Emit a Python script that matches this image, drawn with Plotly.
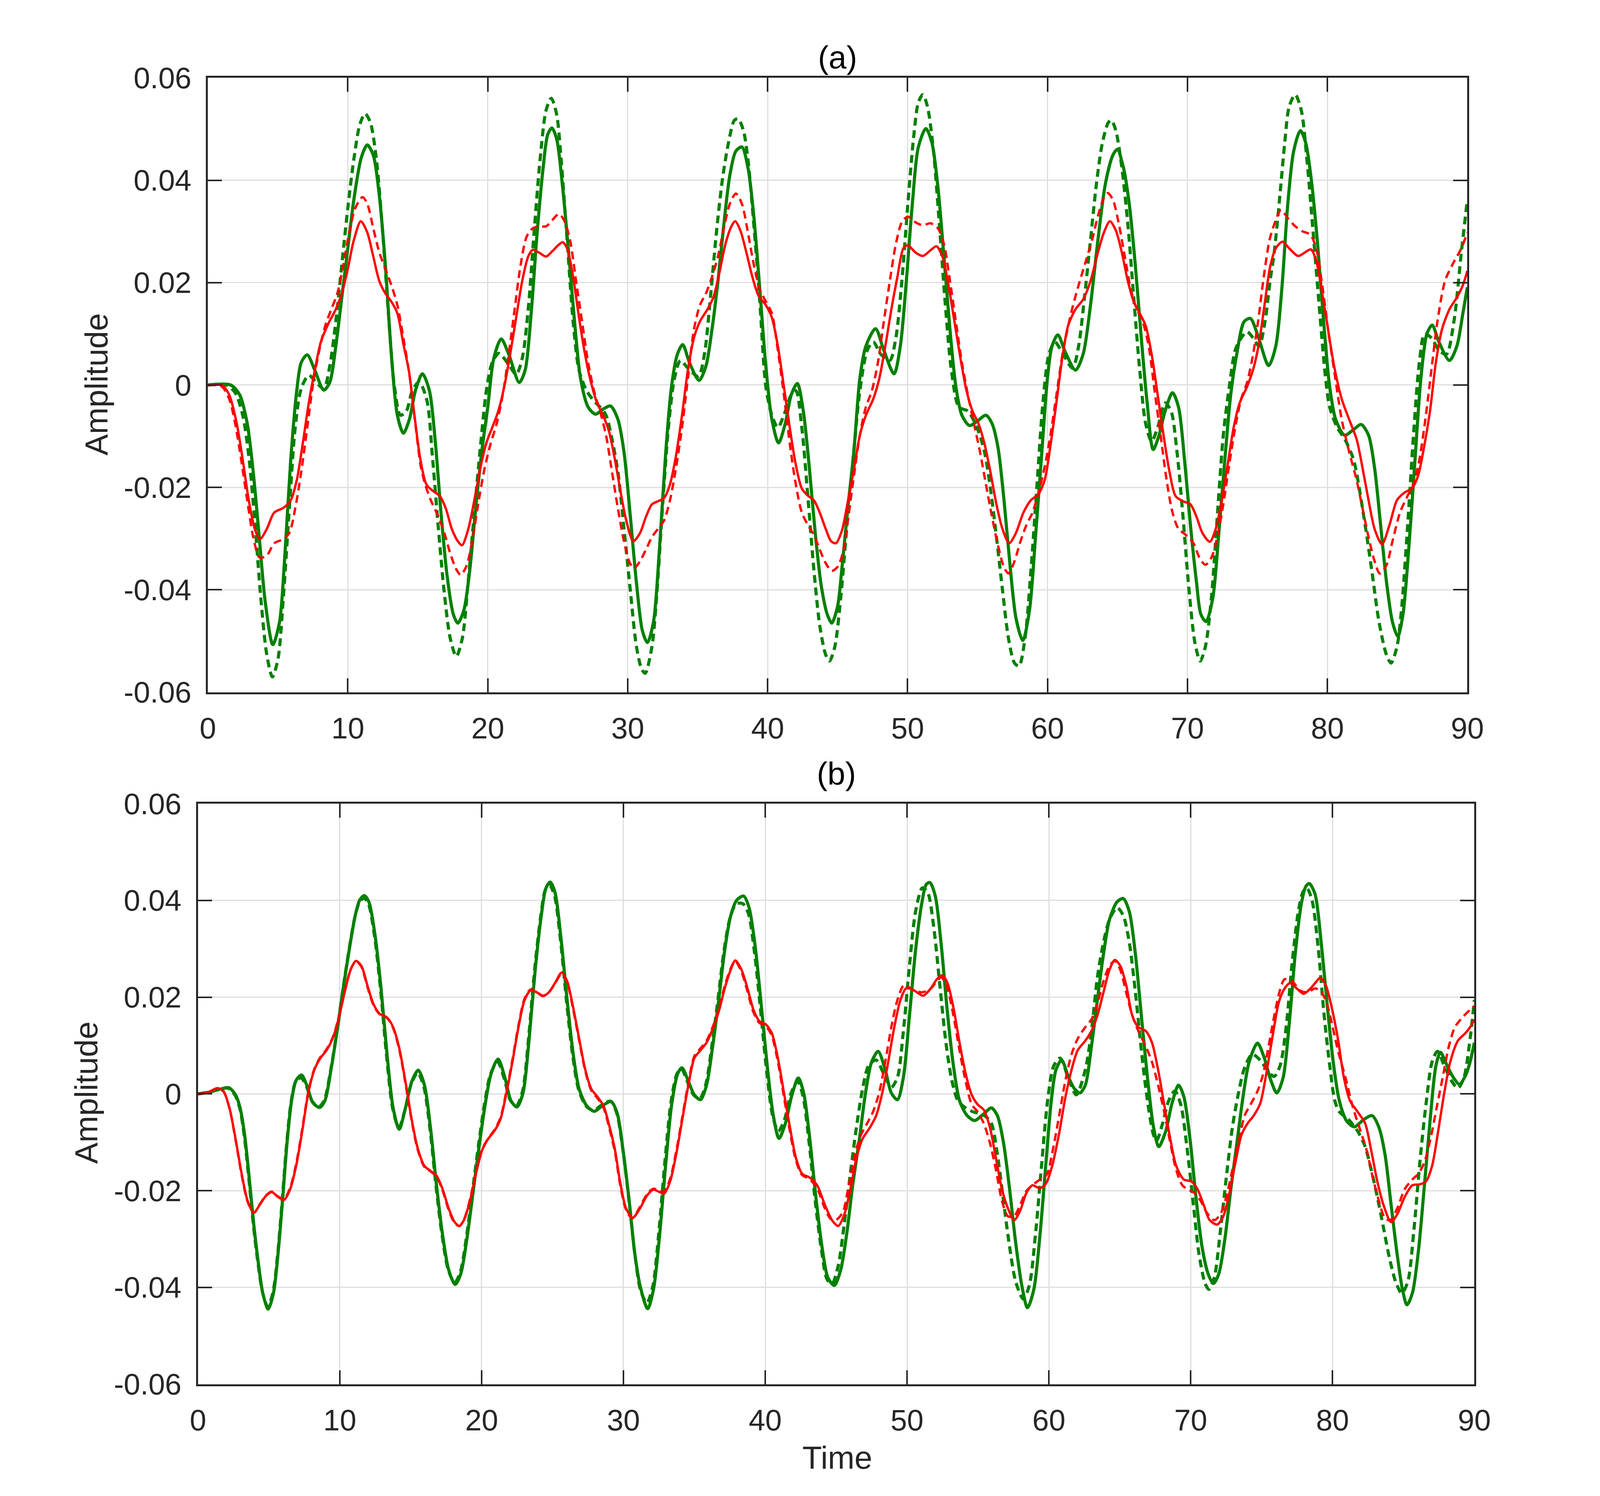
import numpy as np
import plotly.graph_objects as go

# ---------------- data (time, amplitude x 1e-3) ----------------
X_TICKS = [0, 10, 20, 30, 40, 50, 60, 70, 80, 90]
Y_TICKS = [-0.06, -0.04, -0.02, 0, 0.02, 0.04, 0.06]
Y_TICKTEXT = ["-0.06", "-0.04", "-0.02", "0", "0.02", "0.04", "0.06"]

# panel (a)
A_GREEN_SOLID = [[0,0],[1.63,0],[2.27,-1.9],[2.81,-7.5],[3.24,-17],[3.67,-29.7],[4.10,-42.4],[4.64,-50.7],[5.12,-46.3],[5.49,-33.7],[5.92,-14.6],[6.35,-1.1],[6.67,4.4],[7.10,5.9],[7.64,2.9],[8.28,-1.0],[8.71,0.5],[9.14,7.6],[9.57,17.1],[10.0,26.7],[10.43,36.2],[10.97,44.5],[11.39,46.9],[11.82,44.9],[12.25,37],[12.68,23.5],[13.11,6.0],[13.54,-5.9],[13.97,-9.4],[14.4,-6.7],[14.83,-1.1],[15.33,2.2],[15.83,-1.1],[16.26,-11.4],[16.68,-25.7],[17.11,-37.6],[17.54,-44.8],[17.86,-46.5],[18.29,-44],[18.72,-36],[19.14,-24],[19.57,-13],[20.0,-4.3],[20.43,5.2],[20.96,9.0],[21.5,6.0],[22.25,0.5],[22.67,2.9],[23.1,14],[23.53,29.8],[23.96,42.5],[24.28,48.9],[24.58,50.2],[24.92,48.1],[25.35,38.6],[25.78,25.9],[26.2,12.4],[26.63,1.3],[27.17,-4.3],[27.7,-5.7],[28.24,-4.7],[28.77,-4.1],[29.3,-6.7],[29.73,-13],[30.2,-26],[30.62,-38.5],[31.05,-48],[31.41,-50.3],[31.84,-46.3],[32.27,-32],[32.7,-13.8],[33.13,-0.3],[33.55,6.0],[33.93,7.9],[34.41,4.4],[35.1,0.9],[35.59,3.7],[36.02,10.8],[36.45,20.3],[36.87,31.4],[37.3,41],[37.73,45.7],[38.16,46.5],[38.59,42.5],[39.01,33],[39.44,18.7],[39.87,3.7],[40.3,-6.7],[40.78,-11.3],[41.26,-7.5],[41.69,-1.9],[42.12,0.3],[42.55,-5.1],[42.98,-16.2],[43.4,-28.9],[43.83,-39.2],[44.26,-44.8],[44.58,-46.5],[45.0,-43.2],[45.3,-36],[45.73,-24],[46.16,-13],[46.59,1.3],[47.02,7.6],[47.71,11],[48.3,6.8],[49.03,2.2],[49.48,7.6],[49.91,20.3],[50.34,35.4],[50.77,46.5],[51.31,50.1],[51.74,47.3],[52.17,38.6],[52.6,25],[53.03,10.8],[53.45,-0.3],[53.88,-5.9],[54.42,-7.9],[54.96,-7.1],[55.6,-5.9],[56.03,-7.5],[56.46,-12.2],[56.89,-22.5],[57.32,-35.2],[57.75,-45.6],[58.23,-49.9],[58.71,-44],[59.14,-29.7],[59.57,-14],[60.0,1.5],[60.32,7.6],[60.74,9.8],[61.26,6.5],[62.0,2.9],[62.54,6.0],[63.07,15.6],[63.6,28.3],[64.14,39.4],[64.67,44.9],[64.99,46],[65.42,42.5],[65.84,35.4],[66.27,23.5],[66.7,9.2],[67.12,-3.5],[67.55,-12.6],[67.97,-9.8],[68.4,-5.1],[68.93,-1.5],[69.36,-4.3],[69.79,-14.6],[70.21,-27.3],[70.64,-38.4],[70.96,-44.8],[71.33,-46.2],[71.81,-41.6],[72.24,-28.9],[72.67,-14.6],[73.09,-1.9],[73.52,6.0],[74.05,12.4],[74.5,13],[75.05,9.5],[75.8,3.8],[76.31,7.6],[76.74,18.7],[77.17,35.4],[77.59,45.7],[78.07,49.7],[78.45,47.3],[78.88,39.4],[79.3,27.5],[79.73,12.4],[80.16,-0.3],[80.59,-6.7],[81.23,-9.8],[81.87,-8.7],[82.41,-7.7],[82.94,-9.8],[83.37,-16.2],[83.8,-27.3],[84.22,-38.4],[84.65,-46.3],[85.03,-49.1],[85.4,-44.8],[85.83,-31.3],[86.26,-14.6],[86.68,1.3],[87.11,10],[87.49,11.7],[87.97,8.4],[88.72,4.8],[89.25,7.6],[89.68,14],[90.0,19.1]]

A_GREEN_DASH = [[0,0],[1.31,0],[1.95,-1.5],[2.49,-5.9],[2.92,-13.8],[3.35,-26.5],[3.78,-41.6],[4.21,-52.7],[4.61,-57],[5.01,-53.5],[5.39,-41.6],[5.82,-24.1],[6.24,-8.3],[6.67,-0.7],[7.21,1.9],[7.75,0.5],[8.28,-0.7],[8.71,3.7],[9.14,12.4],[9.57,23.5],[10.0,34.6],[10.43,44.1],[10.86,50.9],[11.23,53],[11.61,51.3],[12.04,44.1],[12.47,30.6],[12.9,14],[13.33,-0.3],[13.76,-5.9],[14.18,-5.1],[14.61,-1.1],[15.1,0.6],[15.65,-3],[16.04,-13.8],[16.47,-28],[16.9,-40.8],[17.32,-49.5],[17.75,-53],[18.18,-49.5],[18.6,-38.4],[19.04,-24.9],[19.47,-12.2],[19.9,-1.1],[20.32,4.4],[20.8,6.2],[21.39,4.4],[22.03,2.1],[22.46,5.2],[22.89,14.8],[23.31,29.8],[23.74,44.1],[24.17,53.7],[24.54,56],[24.92,52.9],[25.24,44.1],[25.67,28.3],[26.1,12.4],[26.52,2.9],[27.06,-1.1],[27.59,-3.1],[28.02,-4.3],[28.45,-5.9],[28.88,-10.6],[29.3,-17],[29.77,-29],[30.2,-40.5],[30.62,-51],[31.0,-55.5],[31.25,-56.3],[31.73,-51.1],[32.06,-41.6],[32.48,-24.1],[32.91,-8.3],[33.34,1.3],[33.77,4.8],[34.3,3.3],[35.05,1.7],[35.48,6.0],[35.91,17.1],[36.34,29.8],[36.77,40.2],[37.2,47.3],[37.62,51.7],[37.89,52],[38.27,49.7],[38.59,44.1],[39.01,31.4],[39.44,16.3],[39.87,-0.3],[40.3,-5.9],[40.73,-8.3],[41.16,-5.9],[41.69,-1.9],[42.02,-1.1],[42.44,-8.3],[42.87,-21.7],[43.3,-36],[43.73,-47.1],[44.15,-52.7],[44.42,-53.9],[44.8,-51.1],[45.22,-41.6],[45.65,-28],[46.12,-14],[46.59,-1.1],[47.12,6.8],[47.55,8.4],[48.09,6],[48.73,4.8],[49.16,9.2],[49.59,20.3],[50.02,35.4],[50.45,48.9],[50.77,55.2],[51.09,56.7],[51.42,54.4],[51.85,45.7],[52.27,31.4],[52.7,15.6],[53.13,2.9],[53.67,-4.3],[54.31,-5.1],[54.96,-8.3],[55.49,-13],[55.92,-20.2],[56.35,-29.7],[56.78,-40],[57.21,-49.5],[57.64,-54.3],[57.96,-54.9],[58.39,-49.5],[58.82,-36],[59.25,-19.4],[59.67,-3.5],[60.1,6],[60.53,8.4],[60.96,6.8],[61.79,3.3],[62.22,7.6],[62.64,17.1],[63.07,28.3],[63.5,39.4],[63.92,47.3],[64.35,51.3],[64.56,51.7],[64.88,49.7],[65.31,42.5],[65.74,31.4],[66.16,17.1],[66.59,2.9],[67.01,-7.5],[67.44,-11],[67.87,-8.3],[68.4,-3.5],[68.83,-5.1],[69.25,-13],[69.68,-25.7],[70.11,-40],[70.53,-50.3],[70.91,-53.9],[71.28,-51.1],[71.71,-41.6],[72.13,-25.7],[72.56,-9.8],[72.99,-0.3],[73.41,6.8],[73.84,9.2],[74.26,10.4],[74.69,9.2],[75.12,7.6],[75.54,12.4],[75.9,20.3],[76.2,25.9],[76.63,37.8],[76.95,47.3],[77.27,54.4],[77.7,56.7],[78.13,53.7],[78.56,43.3],[78.98,29.8],[79.41,15.6],[79.84,2.1],[80.16,-4.3],[80.7,-8.3],[81.23,-10.5],[81.87,-14.6],[82.51,-24.1],[83.16,-36],[83.69,-46.3],[84.22,-52.7],[84.55,-54.3],[84.97,-51.1],[85.29,-44],[85.72,-28],[86.15,-9.8],[86.57,4.4],[86.95,10],[87.43,9.2],[87.97,6.8],[88.5,6],[89.04,12.4],[89.57,25.9],[90.0,36.2]]

A_RED_SOLID = [[0,0],[0.99,0],[1.52,-1.9],[2.06,-7.5],[2.49,-14.6],[2.92,-22.5],[3.35,-28.1],[3.72,-30.1],[4.21,-28.1],[4.74,-24.9],[5.39,-24],[5.92,-22.5],[6.35,-18.6],[6.78,-11.4],[7.21,-3.5],[7.64,2.9],[8.07,8.4],[8.61,12],[9.14,14.8],[9.57,17.9],[10.0,22.7],[10.43,28.3],[10.93,32],[11.39,29.8],[11.82,25.1],[12.25,20.3],[12.68,17.9],[13.11,16.3],[13.54,14],[13.97,8],[14.38,2.5],[14.76,-5.9],[15.19,-14.6],[15.61,-19.4],[16.04,-20.6],[16.58,-21.7],[17.0,-24.1],[17.43,-28.1],[17.86,-30.5],[18.16,-31.3],[18.61,-28.1],[19.04,-22.5],[19.47,-16.2],[19.89,-11.4],[20.32,-8.3],[20.75,-5.1],[21.18,-0.3],[21.6,6],[22.03,13.2],[22.46,20.3],[22.89,25.1],[23.21,26.4],[23.64,25.9],[24.17,25.1],[24.6,26.1],[25.03,27.3],[25.35,27.9],[25.67,26.7],[26.1,21.1],[26.52,13.2],[26.95,6],[27.38,0.5],[27.81,-3.5],[28.24,-5.9],[28.66,-9],[29.09,-14.6],[29.5,-21],[29.9,-26.5],[30.4,-30.5],[30.88,-28.9],[31.31,-25.7],[31.73,-23.3],[32.16,-22.7],[32.59,-22.1],[33.02,-19.4],[33.45,-13.8],[33.88,-5.9],[34.3,2.9],[34.73,9.2],[35.16,12.4],[35.7,14.8],[36.12,17.1],[36.55,21.9],[36.98,27.5],[37.41,31],[37.68,32],[38.05,30.2],[38.48,25.9],[38.91,21.1],[39.34,17.5],[39.87,15.6],[40.3,13.2],[40.73,7.6],[41.16,-0.3],[41.58,-8.3],[42.0,-15.4],[42.44,-20.2],[42.87,-21.6],[43.3,-22.5],[43.72,-24.9],[44.15,-28.1],[44.53,-30.5],[44.88,-30.9],[45.3,-28.5],[45.73,-22.8],[46.16,-16.5],[46.59,-9.8],[47.02,-5.9],[47.55,-2.7],[47.98,1.3],[48.41,7.6],[48.84,14.8],[49.27,21.1],[49.7,26.7],[50.02,27.3],[50.56,25.9],[51.09,25.2],[51.63,26.3],[52.06,27.1],[52.49,25.1],[52.92,19.5],[53.35,12.4],[53.78,5.2],[54.21,-1.1],[54.64,-5.1],[55.06,-7.5],[55.49,-11.4],[55.92,-17],[56.35,-23.3],[56.78,-28.1],[57.26,-30.9],[57.74,-28.9],[58.28,-24.9],[58.81,-22.5],[59.35,-21.3],[59.8,-18.5],[60.2,-12],[60.63,-3.5],[61.05,5.2],[61.47,11.6],[62.0,14.8],[62.54,16.7],[63.07,20.3],[63.6,25.9],[64.03,29.8],[64.46,32],[64.88,30.2],[65.31,25.9],[65.74,20.3],[66.16,16.3],[66.59,14],[67.01,11.6],[67.44,6],[67.87,-1.9],[68.29,-9.8],[68.72,-17],[69.15,-21.7],[69.68,-22.7],[70.21,-23.3],[70.64,-25.7],[71.07,-28.9],[71.6,-30.6],[72.02,-28.1],[72.45,-22.5],[72.88,-15.4],[73.3,-8.3],[73.73,-3.5],[74.26,-0.3],[74.69,3],[75.1,8],[75.5,15.5],[75.9,23],[76.31,26.7],[76.79,28],[77.27,26.7],[77.91,25.2],[78.45,26],[78.82,26.5],[79.2,24.3],[79.63,17.9],[80.05,10.8],[80.48,3.7],[81.02,-2.7],[81.55,-6.7],[82.09,-10.6],[82.51,-16.2],[82.94,-22.5],[83.37,-28.1],[83.9,-31.1],[84.44,-27.3],[84.97,-22.5],[85.51,-21],[86.04,-20.2],[86.47,-17.8],[86.9,-12.2],[87.33,-5.1],[87.75,4.4],[88.18,10.8],[88.72,14.8],[89.25,17.1],[89.68,19.5],[90.0,22.3]]

A_RED_DASH = [[0,0],[0.99,-0.3],[1.52,-2.7],[1.95,-7.5],[2.38,-14.6],[2.81,-22.5],[3.24,-29.7],[3.7,-33.7],[4.21,-33.3],[4.74,-30.9],[5.39,-30.1],[5.82,-28.9],[6.24,-24.1],[6.67,-17],[7.1,-8.3],[7.53,0.5],[7.96,6.8],[8.39,11.6],[8.82,14.8],[9.25,17.9],[9.68,23.5],[10.1,29.8],[10.54,34.6],[11.05,36.7],[11.39,35.4],[11.82,30.6],[12.25,25.9],[12.68,22.7],[13.11,19.5],[13.54,15.6],[13.97,9.2],[14.4,2],[14.8,-7],[15.22,-16],[15.55,-19.6],[15.93,-22.5],[16.47,-25.7],[16.9,-28.9],[17.32,-32.9],[17.75,-36],[18.07,-37.1],[18.5,-35.2],[18.93,-29.7],[19.36,-22.5],[19.78,-16.2],[20.21,-11.4],[20.64,-7.5],[21.07,-1.9],[21.5,6],[21.92,14.8],[22.35,23.5],[22.78,29],[23.21,30.6],[23.64,31],[24.17,31],[24.6,32.2],[25.08,33.4],[25.45,32.2],[25.88,28.3],[26.31,20.3],[26.74,12.4],[27.17,4.4],[27.59,-1.1],[28.02,-5.1],[28.45,-9.8],[28.88,-17],[29.3,-24.1],[29.73,-30.5],[30.16,-34.8],[30.47,-35.8],[30.88,-34.4],[31.31,-32.1],[31.73,-29.7],[32.16,-28.1],[32.59,-26.5],[33.02,-22.5],[33.45,-16.2],[33.88,-8.3],[34.3,1.3],[34.73,10.8],[35.16,15.6],[35.59,17.9],[36.02,21.1],[36.45,25.1],[36.87,30.6],[37.3,35.4],[37.73,37.4],[38.16,35.4],[38.59,29.8],[39.01,23.5],[39.44,18.7],[39.87,16.3],[40.3,14],[40.73,6.8],[41.16,-1.9],[41.58,-11.4],[42.01,-19.4],[42.44,-24.9],[42.87,-27.3],[43.3,-29.3],[43.72,-32.1],[44.15,-34.8],[44.58,-36.3],[45.0,-35.5],[45.35,-33],[45.73,-26.5],[46.16,-17.8],[46.59,-9.8],[47.02,-4.3],[47.45,-1.1],[47.88,4.4],[48.3,12.4],[48.73,20.3],[49.16,27.5],[49.59,31.8],[50.02,32.9],[50.56,31.8],[51.09,31.2],[51.63,31.6],[52.17,30.6],[52.6,27.5],[53.03,20.3],[53.45,12.4],[53.88,4.4],[54.31,-1.9],[54.74,-7.5],[55.17,-13],[55.6,-19.4],[56.03,-25.7],[56.46,-31.3],[56.89,-35.6],[57.21,-36.8],[57.64,-34.4],[58.07,-30.5],[58.5,-27.3],[58.93,-24.9],[59.35,-21],[59.78,-16.2],[60.21,-9.8],[60.64,-1.9],[61.07,6],[61.68,14],[62.22,19.5],[62.75,24.3],[63.18,28.3],[63.6,33],[64.03,36.6],[64.3,37.5],[64.67,36.2],[65.1,31.4],[65.52,25.1],[65.95,18.7],[66.38,14.8],[66.8,12.4],[67.23,7.6],[67.65,-1.1],[68.08,-9.8],[68.51,-18.6],[68.93,-24.9],[69.36,-28.1],[69.89,-29.3],[70.43,-30.9],[70.85,-33.7],[71.28,-35.1],[71.71,-33.7],[72.13,-29.7],[72.56,-23.3],[72.99,-15.4],[73.41,-8.3],[73.84,-2.7],[74.26,0.5],[74.69,6],[75.05,12.5],[75.45,21.1],[75.88,28.5],[76.31,32.2],[76.68,34.2],[77.17,32.6],[77.7,31],[78.24,30],[78.77,29.4],[79.2,26.7],[79.63,19.5],[80.05,10.8],[80.48,2.9],[81.02,-6.7],[81.55,-13],[82.09,-18.6],[82.51,-24.1],[82.94,-29.7],[83.37,-34.4],[83.74,-36.8],[84.22,-35.2],[84.65,-30.5],[85.19,-24.9],[85.72,-21.7],[86.15,-19.4],[86.57,-14.6],[87.0,-6.7],[87.43,2.9],[87.86,12.4],[88.4,20.3],[88.93,23.5],[89.57,26.7],[90.0,29.8]]

# panel (b)
B_GREEN_SOLID = [[0,0],[0.83,0.4],[1.58,1.0],[2.17,1.3],[2.65,-0.2],[2.97,-2.9],[3.29,-8.5],[3.61,-17.3],[3.93,-26.9],[4.25,-34.8],[4.57,-41.2],[4.95,-44.5],[5.32,-41.2],[5.64,-33.2],[5.96,-22.1],[6.28,-10.1],[6.6,-1.4],[6.92,2.8],[7.3,3.9],[7.67,1.8],[8.1,-1.8],[8.58,-2.8],[8.95,-1.4],[9.38,5],[9.81,13],[10.24,21.8],[10.66,29.7],[11.09,36.9],[11.41,40.1],[11.73,41],[12.05,39.7],[12.48,32.9],[12.91,21.8],[13.33,8.2],[13.76,-2.9],[14.19,-7.3],[14.62,-3.0],[15.08,2.6],[15.53,4.9],[15.97,1.8],[16.39,-6.9],[16.82,-18.9],[17.25,-29.2],[17.68,-36.4],[18.13,-39.4],[18.53,-37.2],[18.96,-30],[19.39,-20.5],[19.82,-10.9],[20.25,-2.2],[20.67,4.2],[21.16,7.2],[21.64,3.4],[22.07,-1.4],[22.49,-2.7],[22.92,0.2],[23.35,11.4],[23.78,25.7],[24.21,36.9],[24.53,42.5],[24.83,43.8],[25.17,41.7],[25.6,32.1],[26.03,19.4],[26.46,8.2],[26.88,1],[27.42,-2.5],[27.95,-3.6],[28.49,-2.5],[29.13,-1.6],[29.56,-4],[29.99,-12],[30.42,-22.5],[30.8,-33],[31.2,-40],[31.71,-44.4],[32.12,-40.4],[32.55,-29.2],[32.97,-14.9],[33.4,-2.2],[33.83,4.2],[34.13,5.4],[34.58,2.6],[35.0,-0.2],[35.43,-1.2],[35.86,1.8],[36.29,9.8],[36.72,19.4],[37.14,29.7],[37.57,36.9],[38.0,40.1],[38.48,40.9],[38.86,38.5],[39.29,30.5],[39.71,18.6],[40.14,5.8],[40.57,-4.5],[40.97,-9.2],[41.42,-6.1],[41.85,-0.6],[42.33,3.3],[42.71,0.2],[43.14,-9.3],[43.57,-21.3],[44.0,-31.6],[44.42,-38],[44.87,-39.6],[45.32,-36.4],[45.75,-28.8],[46.16,-19],[46.64,-9.3],[47.07,0.2],[47.5,6.6],[47.96,8.8],[48.46,5],[48.89,0.2],[49.32,-1.2],[49.74,3.4],[50.17,16.2],[50.6,29.7],[51.03,39.3],[51.35,43.3],[51.61,43.7],[51.99,40.9],[52.42,30.5],[52.84,17],[53.27,5.8],[53.7,-1.4],[54.24,-4.5],[54.77,-5.5],[55.41,-4.1],[55.95,-2.9],[56.37,-4.5],[56.8,-10.1],[57.23,-19.7],[57.66,-30.8],[58.09,-39.6],[58.49,-44.2],[58.94,-40.4],[59.37,-29.2],[59.8,-14],[60.15,-2],[60.5,5],[60.9,7],[61.39,3.4],[61.82,1],[62.19,0.2],[62.57,1.8],[63.0,9.8],[63.42,19.4],[63.85,28.9],[64.28,36.1],[64.81,39.7],[65.24,40.4],[65.67,37.7],[66.1,28.9],[66.52,16.2],[66.95,3.4],[67.38,-6.9],[67.75,-10.9],[68.24,-7.7],[68.66,-2.2],[69.14,1.8],[69.52,-0.6],[69.95,-9.3],[70.37,-21.3],[70.8,-31.6],[71.23,-37.2],[71.6,-39.2],[71.98,-37.2],[72.41,-30],[72.83,-19.7],[73.26,-10.1],[73.69,-0.6],[74.12,6.6],[74.71,10.5],[75.15,7.8],[75.63,3],[76.07,0.2],[76.52,3.4],[76.95,14.6],[77.37,28.9],[77.8,39.3],[78.12,42.9],[78.36,43.5],[78.77,41.3],[79.2,31.3],[79.62,18.6],[80.05,6.6],[80.48,-1.4],[81.02,-5.7],[81.55,-6.8],[82.2,-5.3],[82.79,-4.5],[83.27,-6.9],[83.7,-12.5],[84.13,-22.9],[84.56,-33.2],[84.93,-40.4],[85.25,-43.6],[85.63,-41.2],[86.06,-32.4],[86.48,-18.9],[86.91,-4.5],[87.29,5.8],[87.61,8.6],[88.09,5.8],[88.52,3.4],[88.95,2],[89.38,3.8],[89.7,6.6],[90.0,10.6]]

B_GREEN_DASH = [[0,0],[0.83,0.4],[1.58,1.0],[2.1,1.2],[2.6,-0.2],[2.95,-3],[3.27,-8.8],[3.59,-17.6],[3.91,-27.2],[4.23,-35],[4.55,-41],[4.92,-44],[5.29,-41],[5.61,-33.4],[5.93,-22.4],[6.25,-10.4],[6.57,-1.6],[6.9,2.6],[7.27,3.3],[7.64,1.6],[8.07,-1.6],[8.55,-2.6],[8.92,-1.2],[9.35,4.8],[9.78,12.6],[10.21,21.4],[10.63,29.4],[11.06,36.5],[11.38,39.6],[11.7,40.5],[12.02,39.3],[12.45,32.6],[12.88,21.4],[13.3,7.8],[13.73,-3],[14.16,-7],[14.59,-3.4],[15.01,1.8],[15.49,4.4],[15.93,1.4],[16.36,-7.2],[16.79,-19.2],[17.22,-29.4],[17.65,-36.4],[18.1,-39],[18.5,-36.8],[18.93,-29.6],[19.36,-20],[19.79,-10.4],[20.22,-1.8],[20.64,4.2],[21.13,6.6],[21.61,3],[22.04,-1.4],[22.46,-2.4],[22.89,0.6],[23.32,11.8],[23.75,26],[24.18,37],[24.5,42.2],[24.8,43.1],[25.14,41],[25.57,31.6],[26.0,18.8],[26.43,7.8],[26.85,0.8],[27.39,-2.6],[27.92,-3.4],[28.46,-2.3],[29.1,-1.5],[29.53,-4],[29.96,-11.5],[30.39,-22],[30.8,-33],[31.2,-40.5],[31.65,-43.2],[32.07,-39.8],[32.5,-28.5],[32.92,-14.2],[33.35,-1.8],[33.78,4.2],[34.08,5.2],[34.53,2.4],[34.95,-0.2],[35.38,-1],[35.81,2],[36.24,10],[36.67,19.6],[37.09,29.6],[37.52,36.4],[37.95,39.3],[38.43,39.3],[38.81,37.3],[39.24,29.3],[39.66,17.6],[40.09,5],[40.52,-4.5],[40.92,-7.7],[41.37,-5.2],[41.8,0],[42.28,2.6],[42.66,-0.4],[43.09,-10],[43.52,-22],[43.95,-32],[44.37,-38.4],[44.72,-39.2],[45.14,-35.6],[45.57,-26.9],[46.0,-16.5],[46.43,-6.9],[46.86,1],[47.28,5.8],[47.82,7],[48.35,4.2],[48.89,1.4],[49.32,3.4],[49.74,13],[50.17,26.5],[50.6,37.7],[51.08,42.6],[51.45,41.7],[51.88,34.5],[52.31,22.5],[52.74,10.6],[53.17,2.6],[53.59,-1.4],[54.13,-2.9],[54.66,-3.7],[55.2,-4.1],[55.6,-4.8],[55.95,-6.1],[56.37,-12.5],[56.8,-22.1],[57.23,-31.6],[57.66,-38.8],[58.19,-42.4],[58.62,-39.6],[59.05,-29.2],[59.48,-14.9],[59.91,-1.4],[60.34,5.8],[60.8,7.4],[61.4,3],[61.93,-0.2],[62.57,5],[63.0,13],[63.42,24.1],[63.85,31.3],[64.28,36.1],[64.81,38.5],[65.24,36.9],[65.67,31.3],[66.1,21],[66.52,9],[66.95,-1.4],[67.38,-8.5],[67.59,-9.7],[68.02,-6.1],[68.45,-1.4],[68.88,0.6],[69.3,-2.2],[69.73,-10.9],[70.16,-22.1],[70.59,-33.2],[71.02,-39.2],[71.28,-40.4],[71.66,-38],[72.09,-28.4],[72.51,-17.3],[72.94,-6.9],[73.37,0.2],[73.8,5.4],[74.33,8.2],[74.76,7.4],[75.3,5.4],[75.87,3.6],[76.3,5.8],[76.73,13.8],[77.16,27.3],[77.59,37.7],[77.91,41.7],[78.18,42.6],[78.55,40.1],[78.98,30.5],[79.41,16.2],[79.84,5],[80.16,-1.4],[80.48,-3.7],[81.13,-5.3],[81.77,-7.7],[82.3,-10.9],[82.73,-15.7],[83.16,-21.3],[83.59,-27.6],[84.02,-34],[84.45,-38.8],[84.88,-41.2],[85.31,-38.8],[85.73,-28.4],[86.16,-14.1],[86.59,-2.2],[87.02,6.6],[87.4,8.8],[87.88,5.8],[88.41,2.6],[88.84,1.2],[89.27,3.4],[89.7,11.4],[90.0,19.4]]

B_RED_SOLID = [[0,0],[0.62,0.2],[1.37,1.2],[1.79,0.6],[2.22,-2.9],[2.65,-9.3],[3.08,-16.5],[3.5,-22.1],[3.93,-24.6],[4.36,-22.9],[4.79,-21.1],[5.21,-20.3],[5.64,-21.3],[6.07,-21.9],[6.5,-19.7],[6.92,-14.9],[7.35,-7.7],[7.78,0.2],[8.21,5],[8.63,7.4],[9.06,9],[9.49,11.4],[9.91,15.4],[10.34,21],[10.77,25.7],[11.14,27.5],[11.52,26.5],[11.94,22.5],[12.37,18.6],[12.8,16.6],[13.33,15.8],[13.76,13.8],[14.19,9.5],[14.65,2.2],[15.07,-5.3],[15.5,-11.3],[15.97,-14.9],[16.39,-15.9],[16.82,-16.9],[17.25,-19.7],[17.68,-23.7],[18.1,-26.5],[18.43,-27.3],[18.75,-26.1],[19.18,-22.1],[19.6,-16.5],[20.03,-11.7],[20.46,-9.3],[20.89,-7.7],[21.32,-5.3],[21.75,0.2],[22.17,6.6],[22.6,13.8],[23.03,19.4],[23.46,21.4],[23.89,21],[24.31,20.2],[24.74,21],[25.17,22.9],[25.65,25.1],[26.03,23.3],[26.46,17.8],[26.88,11.4],[27.31,5],[27.74,1],[28.17,-0.6],[28.6,-2.5],[29.03,-6.9],[29.4,-11.5],[29.76,-18.1],[30.19,-23.7],[30.65,-25.6],[31.16,-23.7],[31.69,-20.9],[32.12,-19.8],[32.55,-20.3],[32.87,-20.6],[33.29,-18.1],[33.72,-12.5],[34.15,-5.3],[34.58,1.8],[35.0,7.4],[35.43,9],[35.86,10.6],[36.29,13.4],[36.72,17],[37.14,21.8],[37.57,25.7],[37.89,27.6],[38.32,25.7],[38.75,21.8],[39.17,17.4],[39.6,15],[40.03,14.4],[40.46,12.6],[40.89,7.4],[41.32,0.2],[41.74,-6.9],[42.17,-13.3],[42.6,-16.5],[43.13,-17.3],[43.66,-18.9],[44.2,-22.9],[44.73,-26.2],[45.14,-27.3],[45.57,-25],[46.0,-19.7],[46.43,-13.3],[46.86,-9.3],[47.39,-6.9],[47.82,-4.5],[48.25,0.2],[48.67,6.6],[49.1,13.8],[49.53,19.4],[49.96,21.9],[50.49,21.4],[51.13,20.3],[51.67,21.8],[52.1,23.7],[52.47,24.5],[52.84,23],[53.27,17.8],[53.7,10.6],[54.13,4.2],[54.56,-0.2],[54.98,-2.2],[55.41,-3.3],[55.84,-6.9],[56.27,-13.3],[56.69,-19.7],[57.12,-23.7],[57.55,-26.1],[57.98,-24.1],[58.41,-20.5],[58.83,-18.9],[59.37,-19.5],[59.8,-18.5],[60.22,-15],[60.7,-8.5],[61.17,-0.6],[61.6,5],[62.03,9],[62.57,11],[63.0,13],[63.42,16.2],[63.85,21],[64.28,25.7],[64.65,27.7],[65.03,26.5],[65.45,22.5],[65.88,16.2],[66.31,13.8],[66.84,13],[67.27,10.6],[67.7,5],[68.13,-2.2],[68.56,-9.3],[68.98,-14.9],[69.52,-17.7],[70.05,-18.1],[70.48,-19.7],[70.91,-22.9],[71.34,-26.1],[71.87,-27],[72.3,-25.3],[72.73,-20.5],[73.16,-14.1],[73.58,-8.5],[74.01,-6.1],[74.44,-4.5],[74.9,-2],[75.32,4],[75.75,11.5],[76.22,19],[76.62,21.8],[77.0,22.9],[77.48,21.8],[77.96,20.7],[78.45,21.8],[78.77,22.9],[79.14,24],[79.52,22.5],[79.95,17.8],[80.38,11.4],[80.8,3.4],[81.23,-1.4],[81.77,-3.7],[82.3,-6.1],[82.73,-11.7],[83.16,-18.1],[83.59,-22.9],[84.13,-26.5],[84.56,-24.9],[85.09,-21.3],[85.63,-18.9],[86.16,-18.7],[86.59,-18.1],[87.02,-14.9],[87.45,-7.7],[87.88,0.2],[88.3,6.6],[88.84,11],[89.38,12.6],[89.7,13.8],[90.0,15.4]]

B_RED_DASH = [[0,0],[0.62,0.2],[1.37,1.1],[1.79,0.5],[2.22,-3],[2.65,-9.5],[3.08,-16.8],[3.5,-22.3],[3.93,-24.6],[4.36,-22.8],[4.79,-21],[5.21,-20.2],[5.64,-21.2],[6.07,-21.7],[6.5,-19.4],[6.92,-14.5],[7.35,-7.3],[7.78,0.5],[8.21,5.2],[8.63,7.6],[9.06,9.2],[9.49,11.6],[9.91,15.6],[10.34,21.2],[10.77,25.8],[11.14,27.4],[11.52,26.3],[11.94,22.2],[12.37,18.4],[12.8,16.5],[13.33,15.7],[13.76,13.6],[14.19,9.2],[14.65,1.8],[15.07,-5.6],[15.5,-11.6],[15.97,-15.1],[16.39,-16],[16.82,-17.1],[17.25,-20],[17.68,-24],[18.1,-26.7],[18.43,-27.3],[18.75,-26],[19.18,-21.8],[19.6,-16.2],[20.03,-11.5],[20.46,-9.2],[20.89,-7.5],[21.32,-5],[21.75,0.6],[22.17,7],[22.6,14.2],[23.03,19.7],[23.46,21.6],[23.89,21.1],[24.31,20.3],[24.74,21],[25.17,22.8],[25.65,24.9],[26.03,23],[26.46,17.4],[26.88,11],[27.31,4.7],[27.74,0.7],[28.17,-0.9],[28.6,-2.9],[29.03,-7.4],[29.4,-12],[29.76,-18.6],[30.19,-24],[30.62,-25.7],[31.16,-23.4],[31.69,-20.6],[32.12,-19.6],[32.55,-20],[32.87,-20.2],[33.29,-17.6],[33.72,-11.9],[34.15,-4.8],[34.58,2.3],[35.0,7.8],[35.43,9.4],[35.86,11],[36.29,13.8],[36.72,17.5],[37.14,22.3],[37.57,26],[37.87,27.5],[38.3,25.4],[38.73,21.4],[39.15,17],[39.58,14.7],[40.01,14.1],[40.44,12.2],[40.87,7],[41.3,-0.3],[41.72,-7.4],[42.15,-13.6],[42.58,-16.7],[43.11,-17.6],[43.64,-19.4],[44.18,-23.5],[44.6,-25.8],[44.96,-26.1],[45.46,-24.5],[45.89,-18.9],[46.32,-12.5],[46.75,-8.5],[47.18,-6.1],[47.6,-3.7],[48.03,0.2],[48.46,6.6],[48.89,13.8],[49.32,19.4],[49.79,22.5],[50.39,21.6],[51.03,21],[51.67,21.8],[52.1,23.3],[52.42,24.1],[52.84,21.8],[53.27,16.2],[53.7,9],[54.13,2.6],[54.56,-2.2],[54.98,-3.7],[55.41,-6.1],[55.84,-10.1],[56.27,-15.7],[56.69,-22.1],[57.12,-25.3],[57.55,-25.3],[57.98,-22.9],[58.41,-20.1],[58.83,-18.9],[59.37,-17.7],[59.85,-16.7],[60.27,-11.7],[60.7,-4.9],[61.18,3],[61.6,8.2],[62.03,11.4],[62.57,13.8],[63.0,15.4],[63.42,18.6],[63.85,23.3],[64.28,26.5],[64.65,27.5],[65.03,25.7],[65.45,21],[65.88,16.2],[66.31,13],[66.84,9.8],[67.27,6.6],[67.7,1.8],[68.13,-3.7],[68.56,-10.1],[68.98,-15.7],[69.41,-18.9],[69.84,-19.8],[70.27,-20.5],[70.7,-22.1],[71.12,-24.5],[71.66,-26.1],[72.09,-24.9],[72.51,-21.3],[72.94,-15.7],[73.37,-10.1],[73.8,-4.5],[74.22,-2.2],[74.7,0.5],[75.1,4],[75.5,10],[75.95,17],[76.3,21.5],[76.62,23.7],[77.16,23.3],[77.7,21.4],[78.23,21],[78.77,21.8],[79.09,21.4],[79.52,19.4],[79.95,14.6],[80.38,9],[80.91,3.4],[81.45,-2.9],[81.98,-7.7],[82.41,-11.7],[82.84,-17.3],[83.27,-22.1],[83.7,-25.7],[84.07,-26.1],[84.56,-23.7],[85.09,-19.7],[85.63,-17.7],[86.06,-16.5],[86.48,-14.1],[86.91,-9.3],[87.34,-2.9],[87.77,3.4],[88.2,9.8],[88.63,13.8],[89.16,15.8],[89.7,17.4],[90.0,18.2]]

# ---------------- styling ----------------
W, H = 4219, 3831
GREEN = "#008000"
RED = "#ff0000"
AXC = "#262626"
FONT = "Liberation Sans, Arial, Helvetica, sans-serif"
TICK_FS = 76
LABEL_FS = 82
DASH = "20px,12px"


def split(pairs):
    arr = np.array(pairs, dtype=float)
    return arr[:, 0], arr[:, 1] / 1000.0


fig = go.Figure()

series = [
    ("x", "y", A_GREEN_SOLID, GREEN, "solid", 8),
    ("x", "y", A_GREEN_DASH, GREEN, DASH, 8),
    ("x", "y", A_RED_SOLID, RED, "solid", 6),
    ("x", "y", A_RED_DASH, RED, DASH, 6),
    ("x2", "y2", B_GREEN_SOLID, GREEN, "solid", 8),
    ("x2", "y2", B_GREEN_DASH, GREEN, DASH, 8),
    ("x2", "y2", B_RED_SOLID, RED, "solid", 6),
    ("x2", "y2", B_RED_DASH, RED, DASH, 6),
]
for xa, ya, pairs, col, dash, lw in series:
    t, v = split(pairs)
    fig.add_trace(go.Scatter(x=t, y=v, xaxis=xa, yaxis=ya, mode="lines",
                             line=dict(color=col, width=lw, dash=dash,
                                       shape="spline", smoothing=0.8),
                             showlegend=False, hoverinfo="skip"))

common_x = dict(range=[0, 90], tickvals=X_TICKS, ticktext=[str(v) for v in X_TICKS],
                showline=True, linecolor=AXC, linewidth=5, mirror="ticks",
                ticks="inside", ticklen=36, tickwidth=4, tickcolor=AXC,
                showgrid=True, gridcolor="#dedede", gridwidth=3, zeroline=False,
                tickfont=dict(family=FONT, size=TICK_FS, color=AXC),
                ticklabelstandoff=22)
common_y = dict(range=[-0.06, 0.06], tickvals=Y_TICKS, ticktext=Y_TICKTEXT,
                showline=True, linecolor=AXC, linewidth=5, mirror="ticks",
                ticks="inside", ticklen=36, tickwidth=4, tickcolor=AXC,
                showgrid=True, gridcolor="#dedede", gridwidth=3, zeroline=False,
                tickfont=dict(family=FONT, size=TICK_FS, color=AXC),
                ticklabelstandoff=22)

fig.update_layout(
    width=W, height=H,
    margin=dict(l=0, r=0, t=0, b=0),
    paper_bgcolor="white", plot_bgcolor="white",
    xaxis=dict(domain=[0.1230, 0.8988], anchor="y", **common_x),
    yaxis=dict(domain=[0.5380, 0.9580], anchor="x", **common_y),
    xaxis2=dict(domain=[0.1169, 0.9031], anchor="y2", **common_x),
    yaxis2=dict(domain=[0.0650, 0.4618], anchor="x2", **common_y),
    annotations=[
        dict(text="(a)", x=0.5109, y=0.9720, xref="paper", yref="paper",
             showarrow=False, xanchor="center", yanchor="middle",
             font=dict(family=FONT, size=LABEL_FS, color="black")),
        dict(text="(b)", x=0.5100, y=0.4826, xref="paper", yref="paper",
             showarrow=False, xanchor="center", yanchor="middle",
             font=dict(family=FONT, size=LABEL_FS, color="black")),
        dict(text="Amplitude", x=0.0543, y=0.7486, xref="paper", yref="paper",
             showarrow=False, xanchor="center", yanchor="middle", textangle=-90,
             font=dict(family=FONT, size=LABEL_FS, color=AXC)),
        dict(text="Amplitude", x=0.0479, y=0.2642, xref="paper", yref="paper",
             showarrow=False, xanchor="center", yanchor="middle", textangle=-90,
             font=dict(family=FONT, size=LABEL_FS, color=AXC)),
        dict(text="Time", x=0.5108, y=0.0149, xref="paper", yref="paper",
             showarrow=False, xanchor="center", yanchor="middle",
             font=dict(family=FONT, size=LABEL_FS, color=AXC)),
    ],
)

fig.write_html("out.html", config={"displayModeBar": False},
               post_script="document.body.style.margin='0px';")
